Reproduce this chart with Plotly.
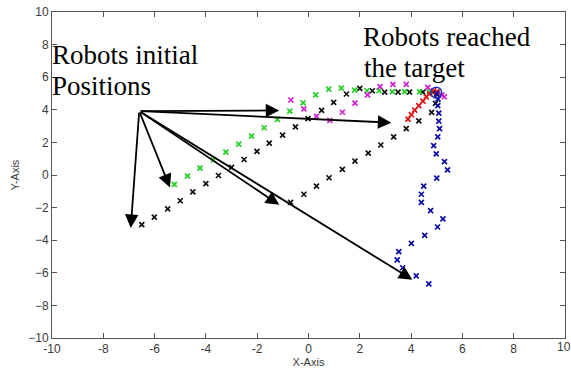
import plotly.graph_objects as go

# Robot trajectories (x, y) toward the common target near (5, 5)
black_a_x = [-6.50, -6.01, -5.49, -5.00, -4.51, -4.00, -3.51, -3.00, -2.51, -2.01, -1.53, -1.01,
             -0.51, -0.02, 0.51, 0.98, 1.48, 2.00, 2.49, 2.97, 3.49, 3.94, 4.46, 4.85, 5.00]
black_a_y = [-3.05, -2.59, -2.08, -1.58, -1.04, -0.53, -0.03, 0.47, 0.95, 1.45, 1.95, 2.45,
             2.95, 3.46, 3.96, 4.46, 4.97, 5.31, 5.17, 5.08, 5.08, 5.08, 5.08, 5.08, 5.05]

black_b_x = [-0.70, -0.18, 0.31, 0.80, 1.32, 1.81, 2.33, 2.82, 3.32, 3.81, 4.30, 4.80, 4.95, 5.00]
black_b_y = [-1.68, -1.18, -0.68, -0.17, 0.35, 0.85, 1.34, 1.84, 2.34, 2.85, 3.32, 3.84, 4.40, 4.95]

green_x = [-5.23, -4.72, -4.23, -3.71, -3.22, -2.72, -2.22, -1.73, -1.21, -0.73, -0.21, 0.28,
           0.79, 1.28, 1.80, 2.28, 2.75, 3.27, 3.75, 4.33, 4.72, 5.00]
green_y = [-0.57, -0.07, 0.42, 0.92, 1.40, 1.90, 2.39, 2.90, 3.41, 3.92, 4.42, 4.92,
           5.27, 5.33, 5.21, 5.17, 5.17, 5.12, 5.12, 5.12, 5.10, 5.05]

magenta_x = [-0.69, -0.18, 0.31, 0.83, 1.32, 1.81, 2.30, 2.79, 3.29, 3.81, 4.65, 5.00, 5.20, 5.30]
magenta_y = [4.60, 4.06, 3.60, 3.35, 3.85, 4.41, 4.91, 5.42, 5.56, 5.56, 5.37, 5.10, 4.90, 4.80]

red_x = [3.88, 4.01, 4.14, 4.30, 4.46, 4.59, 4.72, 4.88, 5.00]
red_y = [3.43, 3.70, 3.98, 4.26, 4.53, 4.79, 4.98, 5.17, 5.10]

blue_x = [4.69, 4.20, 3.67, 3.46, 3.52, 4.01, 4.53, 5.03, 5.24, 4.76, 4.40, 4.40, 4.49,
          5.00, 5.42, 5.30, 4.98, 4.88, 5.04, 5.11, 5.08, 5.08, 5.04, 5.05, 5.00]
blue_y = [-6.68, -6.19, -5.69, -5.21, -4.70, -4.20, -3.70, -3.19, -2.69, -2.19, -1.68, -1.18, -0.68,
          -0.19, 0.31, 0.82, 1.30, 1.80, 2.34, 2.85, 3.31, 3.79, 4.26, 4.65, 5.00]

# Arrows pointing from the label anchor to each robot's starting position
arrow_start = (-6.6, 3.92)
arrow_tip_x = [-6.93, -5.40, -1.14, 3.23, -1.14, 4.05]
arrow_tip_y = [-3.25, -0.77, 3.96, 3.21, -1.83, -6.42]

tick_vals = [-10, -8, -6, -4, -2, 0, 2, 4, 6, 8, 10]

series = [
    (black_a_x, black_a_y, "#111111"),
    (black_b_x, black_b_y, "#111111"),
    (green_x, green_y, "#22d022"),
    (magenta_x, magenta_y, "#d020d0"),
    (red_x, red_y, "#e01010"),
    (blue_x, blue_y, "#0a0aa8"),
]

fig = go.Figure()
for xs, ys, col in series:
    fig.add_trace(go.Scatter(
        x=xs, y=ys, mode="markers",
        marker=dict(symbol="x-thin", size=5, color=col, line=dict(width=1.7, color=col)),
        showlegend=False, hoverinfo="skip",
    ))

# blue ring around the reached target
fig.add_trace(go.Scatter(
    x=[4.98], y=[5.05], mode="markers",
    marker=dict(symbol="circle-open", size=11, color="#2030c0", line=dict(width=1.5, color="#2030c0")),
    showlegend=False, hoverinfo="skip",
))

annotations = []
for tx, ty in zip(arrow_tip_x, arrow_tip_y):
    annotations.append(dict(
        x=tx, y=ty, ax=arrow_start[0], ay=arrow_start[1],
        xref="x", yref="y", axref="x", ayref="y",
        text="", showarrow=True, arrowhead=2, arrowsize=1.5, arrowwidth=1.8,
        arrowcolor="black", standoff=0, startstandoff=0,
    ))

serif = "Liberation Serif, Times New Roman, serif"
# (text, x paper, y paper, font size)
labels = [
    ("Robots initial", -0.004, 0.869, 27),
    ("Positions", -0.004, 0.773, 27),
    ("Robots reached", 0.602, 0.922, 27),
    ("the target", 0.605, 0.829, 27),
]
for txt, lx, ly, fs in labels:
    annotations.append(dict(
        x=lx, y=ly, xref="paper", yref="paper", text=txt, showarrow=False,
        xanchor="left", yanchor="middle", font=dict(family=serif, size=fs, color="black"),
    ))

sans = "Liberation Sans, Arial, sans-serif"
# right-most x tick label, partly running off the page edge
annotations.append(dict(
    x=0.9805, y=0, xref="paper", yref="paper", yshift=-9, text="10", showarrow=False,
    xanchor="left", yanchor="middle", font=dict(family=sans, size=12, color="#3a3a3a"),
))

axis_common = dict(
    range=[-10, 10], ticks="inside", ticklen=5, tickwidth=1,
    tickcolor="#555555", showline=True, linecolor="#555555", linewidth=1,
    mirror="ticks", showgrid=False, zeroline=False,
    tickfont=dict(family=sans, size=12, color="#3a3a3a"),
)

fig.update_layout(
    width=571, height=371,
    margin=dict(l=52, r=5, t=10, b=30),
    paper_bgcolor="white", plot_bgcolor="white",
    xaxis=dict(**axis_common, tickvals=tick_vals,
               ticktext=[str(v) if v != 10 else "" for v in tick_vals],
               title=dict(text="X-Axis", standoff=2, font=dict(family=sans, size=11, color="#3a3a3a"))),
    yaxis=dict(**axis_common, tickvals=tick_vals,
               title=dict(text="Y-Axis", standoff=6, font=dict(family=sans, size=11, color="#3a3a3a"))),
    annotations=annotations,
)

fig.write_html("out.html")
